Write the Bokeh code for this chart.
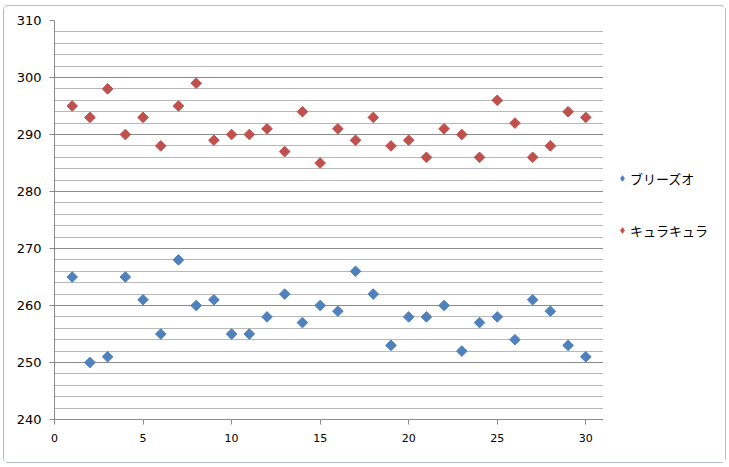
import math
from bokeh.plotting import figure
from bokeh.layouts import row
from bokeh.models import ColumnDataSource, Range1d, SingleIntervalTicker, Legend, LegendItem
from bokeh.embed import file_html
from bokeh.resources import INLINE

day = list(range(1, 31))
breezeo = [265, 250, 251, 265, 261, 255, 268, 260, 261, 255, 255, 258, 262, 257, 260,
           259, 266, 262, 253, 258, 258, 260, 252, 257, 258, 254, 261, 259, 253, 251]
kyurakyura = [295, 293, 298, 290, 293, 288, 295, 299, 289, 290, 290, 291, 287, 294, 285,
              291, 289, 293, 288, 289, 286, 291, 290, 286, 296, 292, 286, 288, 294, 293]
series_names = ["ブリーズオ", "キュラキュラ"]
colors = ["#4F81BD", "#C0504D"]

p = figure(width=599, height=456, output_backend="svg", toolbar_location=None,
           x_range=Range1d(0, 31), y_range=Range1d(240, 310),
           min_border_left=50, min_border_right=0, min_border_top=14, min_border_bottom=43)
p.outline_line_color = None
p.background_fill_color = "white"

src1 = ColumnDataSource(dict(x=day, y=breezeo))
src2 = ColumnDataSource(dict(x=day, y=kyurakyura))
r1 = p.scatter("x", "y", source=src1, marker="square", size=7.5, angle=math.pi / 4,
               fill_color=colors[0], line_color=colors[0])
r2 = p.scatter("x", "y", source=src2, marker="square", size=7.5, angle=math.pi / 4,
               fill_color=colors[1], line_color=colors[1])

p.xaxis.ticker = SingleIntervalTicker(interval=5, num_minor_ticks=0)
p.yaxis.ticker = SingleIntervalTicker(interval=10, num_minor_ticks=5)

p.xgrid.grid_line_color = None
p.ygrid.grid_line_color = "#8c8c8c"
p.ygrid.grid_line_width = 1
p.ygrid.minor_grid_line_color = "#b8b8b8"
p.ygrid.minor_grid_line_width = 1

for ax in (p.xaxis, p.yaxis):
    ax.axis_line_color = "#8c8c8c"
    ax.major_tick_line_color = "#8c8c8c"
    ax.major_tick_in = 0
    ax.major_tick_out = 5
    ax.minor_tick_line_color = None
    ax.major_label_text_color = "#000000"
    ax.major_label_text_font = "DejaVu Sans"

p.yaxis.major_label_text_font_size = "13px"
p.xaxis.major_label_text_font_size = "11px"
p.yaxis.major_label_standoff = 8
p.xaxis.major_label_standoff = 9

# legend panel (same data, out of this panel's view; only the legend shows)
lg = figure(width=122, height=456, output_backend="svg", toolbar_location=None,
            x_range=Range1d(-2, -1), y_range=Range1d(-2, -1),
            min_border_left=0, min_border_right=0, min_border_top=0, min_border_bottom=0)
lg.axis.visible = False
lg.grid.visible = False
lg.outline_line_color = None
l1 = lg.scatter("x", "y", source=src1, marker="diamond", size=9,
                fill_color=colors[0], line_color=colors[0])
l2 = lg.scatter("x", "y", source=src2, marker="diamond", size=9,
                fill_color=colors[1], line_color=colors[1])

legend = Legend(items=[LegendItem(label=series_names[0], renderers=[l1]),
                       LegendItem(label=series_names[1], renderers=[l2])],
                location=(12, 179))
legend.border_line_color = None
legend.background_fill_alpha = 0
legend.label_text_font = "Noto Sans CJK JP"
legend.label_text_font_size = "13px"
legend.label_text_color = "#000000"
legend.spacing = 32
legend.glyph_width = 14
legend.glyph_height = 20
legend.label_standoff = 1
legend.padding = 0
legend.margin = 0
lg.add_layout(legend)

layout = row(p, lg, styles={"border": "1px solid #b4bcc6", "border-radius": "5px",
                            "margin-left": "3px", "margin-top": "5px"})

open("out.html", "w").write(file_html(layout, INLINE))
